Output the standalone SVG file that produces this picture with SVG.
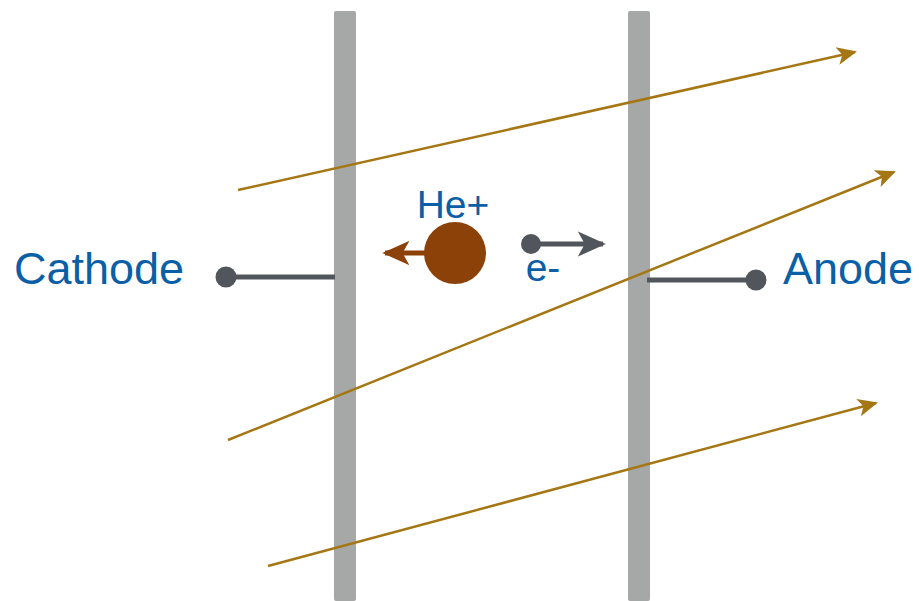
<svg xmlns="http://www.w3.org/2000/svg" width="919" height="601" viewBox="0 0 919 601">
<style>
.plate{fill:#a6a8a7}
.beam{stroke:#a57714;stroke-width:2.5;fill:none}
.wire{stroke:#51555c;stroke-width:5;fill:none}
.lbl{font-family:"Liberation Sans",Arial,sans-serif;fill:#0a5fa6}
</style>
<defs>
<marker id="ag" viewBox="0 0 10 10" refX="9" refY="5" markerWidth="28" markerHeight="28" orient="auto" markerUnits="userSpaceOnUse">
<path d="M0,0.5 L10,5 L0,9.5 L2.5,5 Z" fill="#51555c"/>
</marker>
<marker id="ar" viewBox="0 0 10 10" refX="9" refY="5" markerWidth="27" markerHeight="27" orient="auto" markerUnits="userSpaceOnUse">
<path d="M0,0.5 L10,5 L0,9.5 L2.5,5 Z" fill="#8b4108"/>
</marker>
<marker id="ab2" viewBox="0 0 10 10" refX="9" refY="5" markerWidth="20" markerHeight="20" orient="auto" markerUnits="userSpaceOnUse">
<path d="M0,0.5 L10,5 L0,9.5 L2.5,5 Z" fill="#a57714"/>
</marker>
</defs>
<g id="cathode-plate"><rect class="plate" x="334" y="11" width="22" height="590" rx="2"/></g>
<g id="anode-plate"><rect class="plate" x="628" y="11" width="22" height="590" rx="2"/></g>
<g id="connectors">
<line class="beam" x1="238" y1="190" x2="855" y2="52" marker-end="url(#ab2)"/>
<line class="beam" x1="228" y1="440" x2="894" y2="172" marker-end="url(#ab2)"/>
<line class="beam" x1="268" y1="566" x2="876" y2="403" marker-end="url(#ab2)"/>
<line class="wire" x1="226" y1="277" x2="335" y2="277"/>
<line class="wire" x1="647" y1="280" x2="756" y2="280"/>
<line x1="440" y1="253" x2="385" y2="253" stroke="#8b4108" stroke-width="5" marker-end="url(#ar)"/>
<line x1="531" y1="244" x2="603" y2="244" stroke="#51555c" stroke-width="5" marker-end="url(#ag)"/>
</g>
<g id="cathode"><circle cx="226" cy="277" r="10.5" fill="#51555c"/><text class="lbl" x="14" y="284" font-size="45">Cathode</text></g>
<g id="anode"><circle cx="756" cy="280" r="10.5" fill="#51555c"/><text class="lbl" x="783" y="284" font-size="45">Anode</text></g>
<g id="he-ion"><circle cx="455" cy="253" r="31" fill="#8b4108"/><text class="lbl" x="453" y="218" font-size="39" text-anchor="middle">He+</text></g>
<g id="electron"><circle cx="531" cy="244" r="10" fill="#51555c"/><text class="lbl" x="543" y="281" font-size="39" text-anchor="middle">e-</text></g>
</svg>
